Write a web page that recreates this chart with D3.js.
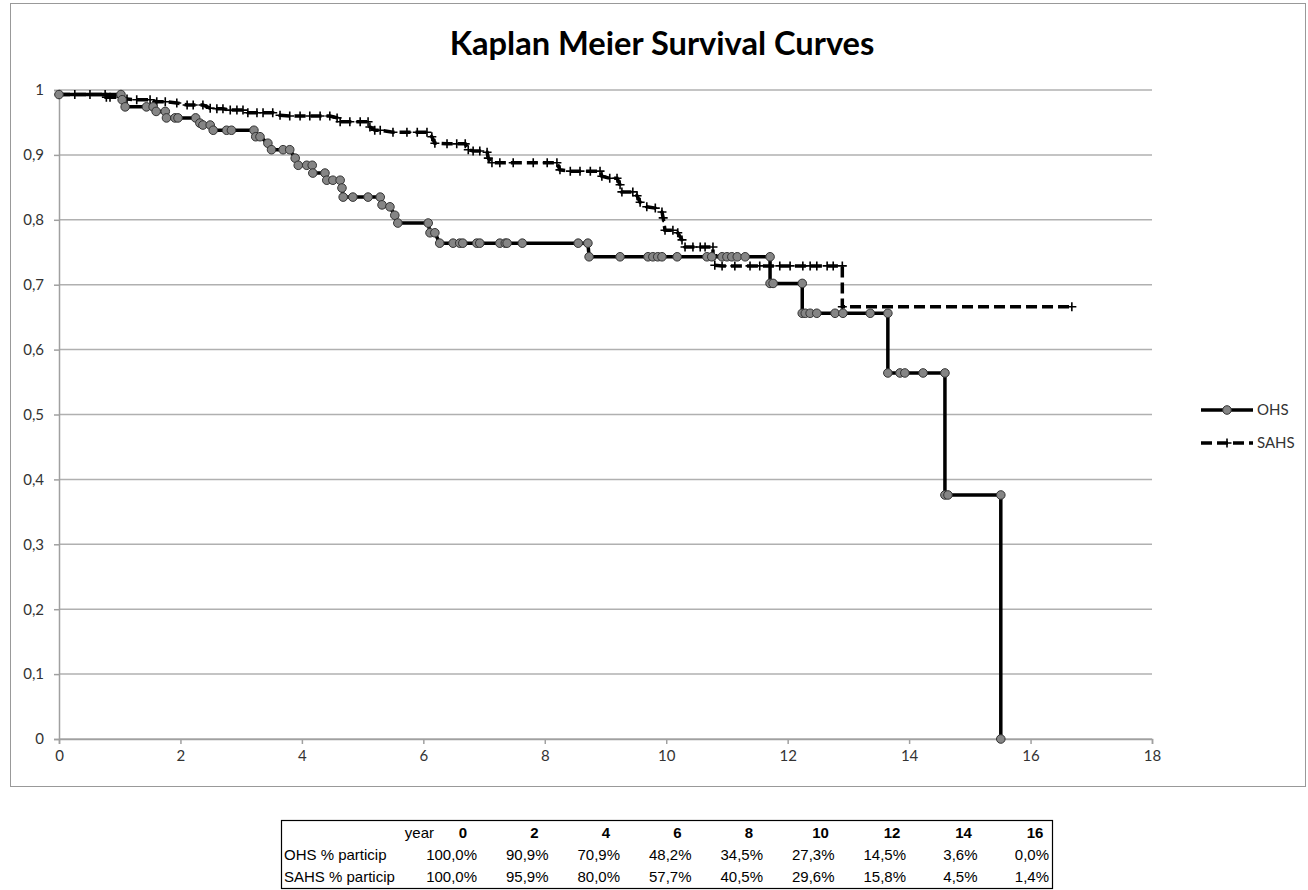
<!DOCTYPE html>
<html><head><meta charset="utf-8">
<script src="https://cdn.jsdelivr.net/npm/d3@7/dist/d3.min.js"></script>
<style>body{margin:0;background:#fff}svg{display:block}</style>
</head><body>
<svg id="c" width="1308" height="890"></svg>
<script>
// ---- DATA ----
const title = "Kaplan Meier Survival Curves";
const xTicks = [0,2,4,6,8,10,12,14,16,18];
const yTicks = [0,0.1,0.2,0.3,0.4,0.5,0.6,0.7,0.8,0.9,1];
const yTickLabels = ["0","0,1","0,2","0,3","0,4","0,5","0,6","0,7","0,8","0,9","1"];
const seriesNames = ["OHS","SAHS"];

const ohsTime = [0,1.02,1.04,1.09,1.44,1.55,1.60,1.75,1.77,1.91,1.96,2.25,2.32,2.37,2.49,2.54,2.76,2.84,3.21,3.24,3.31,3.44,3.50,3.69,3.80,3.89,3.94,4.08,4.17,4.18,4.38,4.41,4.51,4.63,4.66,4.68,4.84,5.09,5.29,5.32,5.45,5.53,5.58,6.08,6.11,6.19,6.27,6.49,6.60,6.65,6.88,6.93,7.26,7.35,7.38,7.63,8.55,8.71,8.73,9.24,9.70,9.78,9.86,9.93,10.18,10.67,10.75,10.92,11.00,11.08,11.17,11.30,11.71,11.71,11.76,12.24,12.24,12.29,12.37,12.48,12.78,12.91,13.36,13.65,13.65,13.85,13.93,14.23,14.59,14.59,14.64,15.51,15.51];
const ohsSurv = [0.993,0.993,0.985,0.974,0.974,0.974,0.967,0.967,0.957,0.957,0.957,0.957,0.949,0.946,0.946,0.938,0.938,0.938,0.938,0.928,0.928,0.918,0.908,0.908,0.908,0.895,0.884,0.884,0.884,0.872,0.872,0.861,0.861,0.861,0.849,0.835,0.835,0.835,0.835,0.823,0.820,0.807,0.795,0.795,0.780,0.780,0.764,0.764,0.764,0.764,0.764,0.764,0.764,0.764,0.764,0.764,0.764,0.764,0.743,0.743,0.743,0.743,0.743,0.743,0.743,0.743,0.743,0.743,0.743,0.743,0.743,0.743,0.743,0.702,0.702,0.702,0.656,0.656,0.656,0.656,0.656,0.656,0.656,0.656,0.564,0.564,0.564,0.564,0.564,0.376,0.376,0.376,0];

const sahsTime = [0,0.26,0.51,0.76,0.78,0.84,1.02,1.12,1.28,1.50,1.61,1.75,1.94,2.11,2.21,2.37,2.49,2.60,2.70,2.82,2.93,3.03,3.11,3.26,3.36,3.52,3.64,3.80,3.97,4.13,4.30,4.46,4.58,4.63,4.79,4.96,5.09,5.12,5.20,5.29,5.50,5.73,5.90,6.06,6.14,6.19,6.39,6.55,6.69,6.74,6.82,6.93,7.05,7.07,7.13,7.26,7.48,7.81,8.04,8.20,8.25,8.42,8.58,8.75,8.91,8.94,9.07,9.19,9.24,9.27,9.45,9.52,9.57,9.68,9.82,9.93,9.95,9.98,10.11,10.19,10.26,10.31,10.44,10.56,10.64,10.77,10.77,10.80,10.92,11.13,11.38,11.54,11.71,11.87,12.04,12.25,12.37,12.48,12.65,12.75,12.90,12.90,16.68];
const sahsSurv = [0.993,0.993,0.993,0.993,0.989,0.989,0.989,0.986,0.985,0.985,0.982,0.982,0.980,0.977,0.977,0.977,0.972,0.971,0.971,0.969,0.969,0.969,0.965,0.965,0.965,0.965,0.961,0.960,0.960,0.960,0.960,0.960,0.957,0.951,0.951,0.951,0.951,0.943,0.938,0.938,0.935,0.935,0.935,0.935,0.928,0.918,0.917,0.917,0.917,0.908,0.906,0.906,0.904,0.895,0.888,0.888,0.888,0.888,0.888,0.888,0.877,0.875,0.875,0.875,0.875,0.867,0.864,0.864,0.854,0.843,0.843,0.837,0.827,0.820,0.818,0.812,0.803,0.784,0.784,0.780,0.769,0.758,0.758,0.758,0.758,0.758,0.746,0.730,0.729,0.729,0.729,0.729,0.729,0.729,0.729,0.729,0.729,0.729,0.729,0.729,0.729,0.666,0.666];

const tableYears = ["0","2","4","6","8","10","12","14","16"];
const tableRowLabels = ["OHS % particip","SAHS % particip"];
const ohsPct = ["100,0%","90,9%","70,9%","48,2%","34,5%","27,3%","14,5%","3,6%","0,0%"];
const sahsPct = ["100,0%","95,9%","80,0%","57,7%","40,5%","29,6%","15,8%","4,5%","1,4%"];

// ---- DRAW ----
const svg = d3.select("#c");
const chartFont = "Lato, 'Open Sans', sans-serif";
const tableFont = "'Liberation Sans', Arial, sans-serif";

svg.append("rect").attr("x",10.5).attr("y",3.5).attr("width",1295).attr("height",783)
  .attr("fill","#fff").attr("stroke","#999").attr("stroke-width",1);

const x = d3.scaleLinear().domain([0,18]).range([59,1152]);
const y = d3.scaleLinear().domain([0,1]).range([739,90]);

// gridlines
svg.append("g").selectAll("line").data(yTicks).join("line")
  .attr("x1",x(0)).attr("x2",x(18)).attr("y1",d=>y(d)).attr("y2",d=>y(d))
  .attr("stroke","#b0b0b0").attr("stroke-width",1.5);

// y axis
const yAxis = d3.axisLeft(y).tickValues(yTicks).tickSize(5).tickPadding(10)
  .tickFormat((d,i)=>yTickLabels[i]);
const gy = svg.append("g").attr("transform",`translate(${x(0)},0)`).call(yAxis);
gy.select(".domain").attr("stroke","#a0a0a0").attr("stroke-width",1.5);
gy.selectAll(".tick line").attr("stroke","#a0a0a0").attr("stroke-width",1.5);
gy.selectAll("text").attr("font-family",chartFont).attr("font-size",15).attr("fill","#333");

// x axis
const xAxis = d3.axisBottom(x).tickValues(xTicks).tickSize(5).tickPadding(6);
const gx = svg.append("g").attr("transform",`translate(0,${y(0)})`).call(xAxis);
gx.select(".domain").attr("stroke","#a0a0a0").attr("stroke-width",1.5);
gx.selectAll(".tick line").attr("stroke","#a0a0a0").attr("stroke-width",1.5);
gx.selectAll("text").attr("font-family",chartFont).attr("font-size",15).attr("fill","#333");

// title
const t = svg.append("text").attr("x",662).attr("y",55).attr("text-anchor","middle")
  .attr("font-family",chartFont).attr("font-weight","bold").attr("font-size",28)
  .attr("fill","#000").text(title);
const tw = t.node().getComputedTextLength();
t.attr("font-size", 28*425/tw);

const line = d3.line().x(d=>x(d[0])).y(d=>y(d[1]));
const ohs = ohsTime.map((v,i)=>[v,ohsSurv[i]]);
const sahs = sahsTime.map((v,i)=>[v,sahsSurv[i]]);

// SAHS dashed
svg.append("path").datum(sahs).attr("d",line).attr("fill","none")
  .attr("stroke","#000").attr("stroke-width",3.5).attr("stroke-dasharray","11,5");
const plus = d3.symbol().type(d3.symbolCross);
function plusPath(s){const h=s/2;return `M${-h},0H${h}M0,${-h}V${h}`;}
svg.append("g").selectAll("path").data(sahs).join("path")
  .attr("transform",d=>`translate(${x(d[0])},${y(d[1])})`)
  .attr("d",plusPath(9)).attr("stroke","#000").attr("stroke-width",1.6).attr("fill","none");

// OHS solid
svg.append("path").datum(ohs).attr("d",line).attr("fill","none")
  .attr("stroke","#000").attr("stroke-width",3.5).attr("stroke-linejoin","miter");
svg.append("g").selectAll("circle").data(ohs).join("circle")
  .attr("cx",d=>x(d[0])).attr("cy",d=>y(d[1])).attr("r",4.3)
  .attr("fill","#858585").attr("stroke","#333").attr("stroke-width",1);

// legend
const lg = svg.append("g");
lg.append("line").attr("x1",1201).attr("x2",1253).attr("y1",410).attr("y2",410)
  .attr("stroke","#000").attr("stroke-width",3.5);
lg.append("circle").attr("cx",1227).attr("cy",410).attr("r",4.3)
  .attr("fill","#858585").attr("stroke","#333").attr("stroke-width",1);
lg.append("text").attr("x",1257).attr("y",415).text(seriesNames[0])
  .attr("font-family",chartFont).attr("font-size",15).attr("fill","#333");
lg.append("line").attr("x1",1201).attr("x2",1253).attr("y1",443).attr("y2",443)
  .attr("stroke","#000").attr("stroke-width",3.5).attr("stroke-dasharray","11,5");
lg.append("path").attr("transform","translate(1227,443)").attr("d",plusPath(9))
  .attr("stroke","#000").attr("stroke-width",1.6);
lg.append("text").attr("x",1257).attr("y",448).text(seriesNames[1])
  .attr("font-family",chartFont).attr("font-size",15).attr("fill","#333");

// table
const tb = svg.append("g");
tb.append("rect").attr("x",281.5).attr("y",820.5).attr("width",771).attr("height",68)
  .attr("fill","#fff").attr("stroke","#000").attr("stroke-width",1.2);
const colRight = d3.scaleLinear().domain([0,8]).range([477,1049]);
const rowY = [838,860,882];
tb.append("text").attr("x",434).attr("y",rowY[0]).attr("text-anchor","end")
  .attr("font-family",tableFont).attr("font-size",15).text("year");
tb.selectAll(".hd").data(tableYears).join("text").attr("class","hd")
  .attr("x",(d,i)=>colRight(i)-14).attr("y",rowY[0]).attr("text-anchor","middle")
  .attr("font-family",tableFont).attr("font-size",15).attr("font-weight","bold").text(d=>d);
[ohsPct,sahsPct].forEach((row,r)=>{
  tb.append("text").attr("x",284).attr("y",rowY[r+1])
    .attr("font-family",tableFont).attr("font-size",15).text(tableRowLabels[r]);
  tb.selectAll(".r"+r).data(row).join("text").attr("class","r"+r)
    .attr("x",(d,i)=>colRight(i)).attr("y",rowY[r+1]).attr("text-anchor","end")
    .attr("font-family",tableFont).attr("font-size",15).text(d=>d);
});
</script>
</body></html>
